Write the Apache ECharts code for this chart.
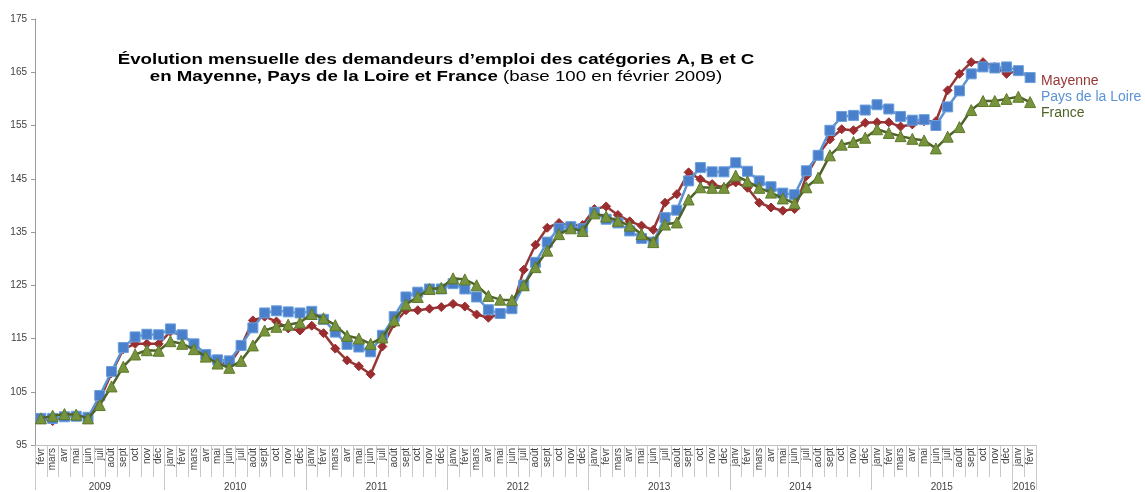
<!DOCTYPE html>
<html>
<head>
<meta charset="utf-8">
<script src="https://cdn.jsdelivr.net/npm/echarts@6/dist/echarts.min.js"></script>
<style>
html,body{margin:0;padding:0;background:#fff;}
#chart{width:1145px;height:492px;}
</style>
</head>
<body>
<div id="chart"></div>
<script>
var monthNames = ['janv','févr','mars','avr','mai','juin','juil','août','sept','oct','nov','déc'];
var startMonth = 1; // févr
var nMonths = 85;
var yearLabels = ['2009','2010','2011','2012','2013','2014','2015','2016'];
var yearBounds = [0, 11, 23, 35, 47, 59, 71, 83, 85];
var yTicks = [95, 105, 115, 125, 135, 145, 155, 165, 175];
var titleLine1 = 'Évolution mensuelle des demandeurs d\u2019emploi des catégories A, B et C';
var titleLine2Bold = 'en Mayenne, Pays de la Loire et France';
var titleLine2Normal = ' (base 100 en février 2009)';

var mayenne = [100,99.5,100.5,100.5,100.2,103.5,108.5,113,114,114,114,
 116.3,115.6,114,112,110.8,110,113.5,118.4,119.1,118.2,116.9,116.5,
 117.4,116,113.1,110.9,109.8,108.3,113.5,117.8,120.3,120.3,120.6,120.9,
 121.5,121,119.5,118.9,119.6,120.6,127.9,132.6,135.8,136.7,136.2,136.3,
 139.3,139.8,138.2,137,136.2,135.4,140.5,142.1,146.2,144.9,144,143.3,
 144.3,143.3,140.5,139.6,139,139.3,145.5,149.5,152.4,154.3,154.1,155.5,
 155.6,155.6,154.8,155.2,155.8,155.8,161.6,164.7,166.9,166.9,166,164.7,
 165.3,164.1];
var paysLoire = [100,100,100.3,100.4,100.2,104.3,108.8,113.3,115.3,115.8,115.7,
 116.8,115.7,114,112,111,110.8,113.7,117,119.8,120.2,120,119.8,
 120.1,118.6,116.2,113.9,113.4,112.5,115.6,119.1,122.8,123.7,124.3,124.3,
 125.3,124.3,122.8,120.4,119.7,120.6,125,129.3,133.1,135.7,136,135.6,
 138.7,137.4,136.7,135.2,133.8,133.1,137.7,139.1,144.6,147.1,146.3,146.3,
 148,146.4,144.6,143.5,142.3,142,146.5,149.4,154.1,156.7,156.9,157.9,
 158.9,158.1,156.7,156,156.1,155,158.5,161.5,164.7,166,165.8,166,
 165.3,164];
var france = [100,100.5,100.8,100.7,100,102.5,106,109.7,112,112.8,112.7,
 114.5,114,113,111.6,110.3,109.5,110.8,113.7,116.5,117.2,117.6,118,
 119.6,118.8,117.5,115.5,115,114,115.2,118.4,121.4,122.8,124.3,124.5,
 126.3,126.1,125,123,122.3,122.2,125,128.4,131.5,134.6,135.7,135.2,
 138.5,137.9,137.1,136.2,134.6,133.1,136.4,136.8,141.1,143.4,143.3,143.3,
 145.6,144.5,143.3,142.4,141.3,140.4,143.4,145.2,149.4,151.4,151.9,152.7,
 154.3,153.6,153,152.5,152.2,150.7,152.9,154.7,157.9,159.6,159.6,160,
 160.4,159.4];

var categories = [];
for (var i = 0; i < nMonths; i++) {
  categories.push(monthNames[(startMonth + i) % 12]);
}
var yearCenters = [];
var yearMap = {};
for (var k = 0; k < yearLabels.length; k++) {
  var c = (yearBounds[k] + yearBounds[k + 1]) / 2;
  yearCenters.push(c);
  yearMap[c] = yearLabels[k];
}

var chart = echarts.init(document.getElementById('chart'), null, {renderer: 'canvas'});
var FONT = '"Liberation Sans", Arial, sans-serif';
chart.setOption({
  animation: false,
  backgroundColor: '#ffffff',
  textStyle: {fontFamily: FONT},
  graphic: [{
    type: 'text',
    x: 436,
    y: 52,
    scaleX: 1.335,
    scaleY: 1,
    z: 100,
    style: {
      text: '{b|' + titleLine1 + '}\n{b|' + titleLine2Bold + '}{n|' + titleLine2Normal + '}',
      align: 'center',
      verticalAlign: 'top',
      rich: {
        b: {fontFamily: FONT, fontWeight: 'bold', fontSize: 14, fill: '#000', lineHeight: 17, align: 'center'},
        n: {fontFamily: FONT, fontWeight: 'normal', fontSize: 14, fill: '#000', lineHeight: 17, align: 'center'}
      }
    }
  }],
  legend: {
    orient: 'vertical',
    left: 1031,
    top: 69,
    icon: 'none',
    itemWidth: 0,
    itemHeight: 14,
    itemGap: 2,
    selectedMode: false,
    textStyle: {fontFamily: FONT, fontSize: 14},
    data: [
      {name: 'Mayenne', textStyle: {color: '#953735'}},
      {name: 'Pays de la Loire', textStyle: {color: '#5B93D3'}},
      {name: 'France', textStyle: {color: '#4F6228'}}
    ]
  },
  grid: {left: 35, right: 109, top: 19, bottom: 45, containLabel: false},
  xAxis: [{
    type: 'category',
    data: categories,
    boundaryGap: true,
    position: 'bottom',
    axisLine: {show: true, lineStyle: {color: '#bfbfbf', width: 1}},
    axisTick: {show: true, interval: 0, alignWithLabel: false, length: 32, lineStyle: {color: '#c8c8c8'}},
    axisLabel: {interval: 0, rotate: 90, fontSize: 10, color: '#404040', margin: 3, fontFamily: FONT},
    splitLine: {show: false}
  }, {
    type: 'value',
    min: 0,
    max: nMonths,
    position: 'bottom',
    axisLine: {show: false},
    axisTick: {show: true, length: 45, customValues: yearBounds, lineStyle: {color: '#c8c8c8'}},
    axisLabel: {show: true, customValues: yearCenters, fontSize: 10, color: '#404040', margin: 37, fontFamily: FONT,
      formatter: function (v) { return yearMap[v] || ''; }},
    splitLine: {show: false}
  }],
  yAxis: {
    type: 'value',
    min: 95,
    max: 175,
    axisLine: {show: true, lineStyle: {color: '#9a9a9a'}},
    axisTick: {show: true, length: 4, customValues: yTicks, lineStyle: {color: '#9a9a9a'}},
    axisLabel: {customValues: yTicks, fontSize: 10, color: '#404040', margin: 8, fontFamily: FONT},
    splitLine: {show: false}
  },
  series: [{
    name: 'Mayenne',
    type: 'line',
    data: mayenne,
    symbol: 'diamond',
    symbolSize: 9,
    lineStyle: {color: '#953735', width: 2.5},
    itemStyle: {color: '#9B2D30', borderColor: '#9B2D30'},
    z: 2
  }, {
    name: 'Pays de la Loire',
    type: 'line',
    data: paysLoire,
    symbol: 'rect',
    symbolSize: 10,
    lineStyle: {color: '#5B93D3', width: 2.5},
    itemStyle: {color: '#4A7FCB', borderColor: '#6A9FDD', borderWidth: 1},
    z: 3
  }, {
    name: 'France',
    type: 'line',
    data: france,
    symbol: 'triangle',
    symbolSize: 11,
    lineStyle: {color: '#4F6228', width: 2.5},
    itemStyle: {color: '#77933C', borderColor: '#5E7A2C', borderWidth: 1},
    z: 4
  }]
});
</script>
</body>
</html>
